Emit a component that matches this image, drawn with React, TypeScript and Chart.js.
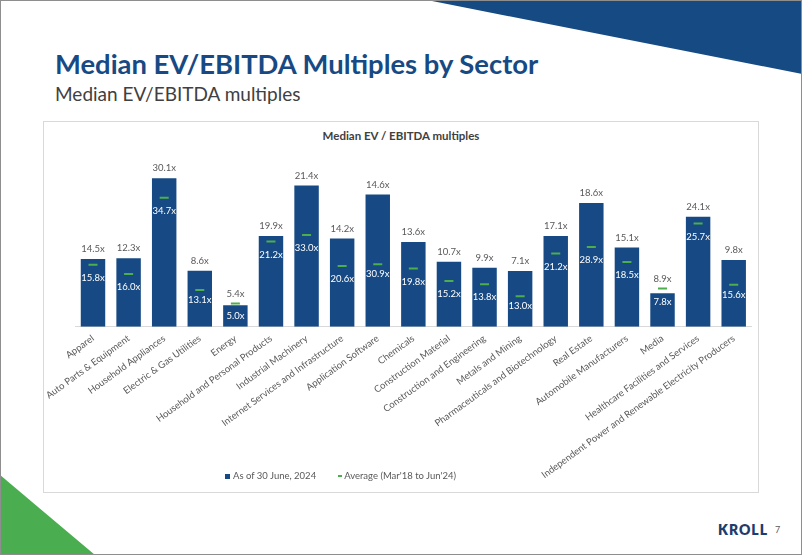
import React, { useEffect, useRef } from "react";
import { Chart, registerables } from "chart.js";

Chart.register(...registerables);

const categories = [
  "Apparel",
  "Auto Parts & Equipment",
  "Household Appliances",
  "Electric & Gas Utilities",
  "Energy",
  "Household and Personal Products",
  "Industrial Machinery",
  "Internet Services and Infrastructure",
  "Application Software",
  "Chemicals",
  "Construction Material",
  "Construction and Engineering",
  "Metals and Mining",
  "Pharmaceuticals and Biotechnology",
  "Real Estate",
  "Automobile Manufacturers",
  "Media",
  "Healthcare Facilities and Services",
  "Independent Power and Renewable Electricity Producers",
];

// Bar series ("As of 30 June, 2024") as drawn
const juneValues = [15.8, 16.0, 34.7, 13.1, 5.0, 21.2, 33.0, 20.6, 30.9, 19.8, 15.2, 13.8, 13.0, 21.2, 28.9, 18.5, 7.8, 25.7, 15.6];
// Dash series ("Average (Mar'18 to Jun'24)") as drawn
const averageValues = [14.5, 12.3, 30.1, 8.6, 5.4, 19.9, 21.4, 14.2, 14.6, 13.6, 10.7, 9.9, 7.1, 17.1, 18.6, 15.1, 8.9, 24.1, 9.8];

const yMax = 40;

const BLUE = "#174a84";
const GREEN = "#4cae4c";
const GREY = "#595959";
const FONT = "Lato, 'Open Sans', sans-serif";

const labelPlugin = {
  id: "valueLabels",
  afterDatasetsDraw(chart: any) {
    const ctx = chart.ctx;
    const bars = chart.getDatasetMeta(0).data;
    const dashes = chart.getDatasetMeta(1).data;
    ctx.save();
    ctx.font = `9.5px ${FONT}`;
    ctx.textAlign = "center";
    ctx.textBaseline = "middle";
    for (let i = 0; i < bars.length; i++) {
      const b: any = bars[i];
      const d: any = dashes[i];
      const topY = Math.min(b.y, d.y);
      ctx.fillStyle = GREY;
      ctx.fillText(`${averageValues[i].toFixed(1)}x`, b.x, topY - 10);
      const center = (b.y + b.base) / 2;
      const inY = Math.max(d.y + 10, Math.min(center, d.y + 13));
      ctx.fillStyle = "#ffffff";
      ctx.fillText(`${juneValues[i].toFixed(1)}x`, b.x, inY);
    }
    ctx.restore();
  },
};

export default function App() {
  const canvasRef = useRef<HTMLCanvasElement | null>(null);

  useEffect(() => {
    document.body.style.margin = "0";
    const canvas = canvasRef.current;
    if (!canvas) return;
    const chart = new Chart(canvas, {
      type: "bar",
      data: {
        labels: categories,
        datasets: [
          {
            type: "bar",
            label: "As of 30 June, 2024",
            data: juneValues,
            backgroundColor: BLUE,
            barPercentage: 0.687,
            categoryPercentage: 1,
            order: 1,
          },
          {
            type: "line",
            label: "Average (Mar'18 to Jun'24)",
            data: averageValues,
            showLine: false,
            pointStyle: "line",
            pointRadius: 4.5,
            pointBorderWidth: 2,
            pointBorderColor: GREEN,
            borderColor: GREEN,
            backgroundColor: GREEN,
            order: 0,
          } as any,
        ],
      },
      options: {
        animation: false,
        responsive: false,
        maintainAspectRatio: false,
        layout: { padding: { left: 31.2, right: 0, top: 33.5, bottom: 0 } },
        plugins: {
          legend: { display: false },
          tooltip: { enabled: false },
          title: { display: false },
        },
        scales: {
          x: {
            offset: true,
            grid: { display: false, drawTicks: false },
            border: { display: true, color: "#d9d9d9", width: 1 },
            ticks: {
              color: GREY,
              font: { family: FONT, size: 9.5 },
              autoSkip: false,
              minRotation: 36,
              maxRotation: 36,
              padding: 6,
            },
            afterFit: (scale: any) => {
              scale.height = 165.3;
            },
          },
          y: {
            display: false,
            min: 0,
            max: yMax,
          },
        },
      },
      plugins: [labelPlugin],
    });
    return () => chart.destroy();
  }, []);

  return (
    <div
      style={{
        position: "fixed",
        left: 0,
        top: 0,
        width: 802,
        height: 555,
        background: "#ffffff",
        overflow: "hidden",
        fontFamily: FONT,
        boxSizing: "border-box",
        border: "1px solid #8e8e8e",
      }}
    >
      <svg width={802} height={555} style={{ position: "absolute", left: -1, top: -1 }}>
        <polygon points="427,0 802,0 802,74" fill="#164a82" />
        <polygon points="0,475 0,555 95,555" fill="#4aad4f" />
      </svg>
      <div
        style={{
          position: "absolute",
          left: 54,
          top: 49,
          fontSize: 27.4,
          lineHeight: "28px",
          fontWeight: 700,
          color: BLUE,
          whiteSpace: "nowrap",
        }}
      >
        Median EV/EBITDA Multiples by Sector
      </div>
      <div
        style={{
          position: "absolute",
          left: 54,
          top: 83,
          fontSize: 19,
          lineHeight: "19px",
          color: "#404040",
          whiteSpace: "nowrap",
        }}
      >
        Median EV/EBITDA multiples
      </div>
      <div
        style={{
          position: "absolute",
          left: 42,
          top: 120,
          width: 716,
          height: 372,
          border: "1px solid #d9d9d9",
          boxSizing: "border-box",
        }}
      />
      <div
        style={{
          position: "absolute",
          left: 42,
          top: 128,
          width: 716,
          textAlign: "center",
          fontSize: 11.5,
          lineHeight: "14px",
          fontWeight: 700,
          color: "#404040",
          whiteSpace: "nowrap",
        }}
      >
        Median EV / EBITDA multiples
      </div>
      <canvas
        ref={canvasRef}
        width={714}
        height={370}
        style={{ position: "absolute", left: 43, top: 121, width: 714, height: 370 }}
      />
      <div
        style={{
          position: "absolute",
          left: 224,
          top: 469,
          fontSize: 9.5,
          lineHeight: "12px",
          color: GREY,
          whiteSpace: "nowrap",
          display: "flex",
          alignItems: "center",
        }}
      >
        <span style={{ display: "inline-block", width: 5, height: 5, background: BLUE, marginRight: 3 }} />
        <span>As of 30 June, 2024</span>
        <span
          style={{ display: "inline-block", width: 4, height: 1.5, background: GREEN, marginLeft: 22, marginRight: 2 }}
        />
        <span>Average (Mar'18 to Jun'24)</span>
      </div>
      <div
        style={{
          position: "absolute",
          left: 717,
          top: 520,
          fontSize: 14,
          lineHeight: "18px",
          fontWeight: 800,
          letterSpacing: 1,
          color: "#1d3d6e",
          whiteSpace: "nowrap",
        }}
      >
        KROLL
      </div>
      <div
        style={{
          position: "absolute",
          left: 774,
          top: 523,
          fontSize: 9,
          lineHeight: "12px",
          color: GREY,
        }}
      >
        7
      </div>
    </div>
  );
}
